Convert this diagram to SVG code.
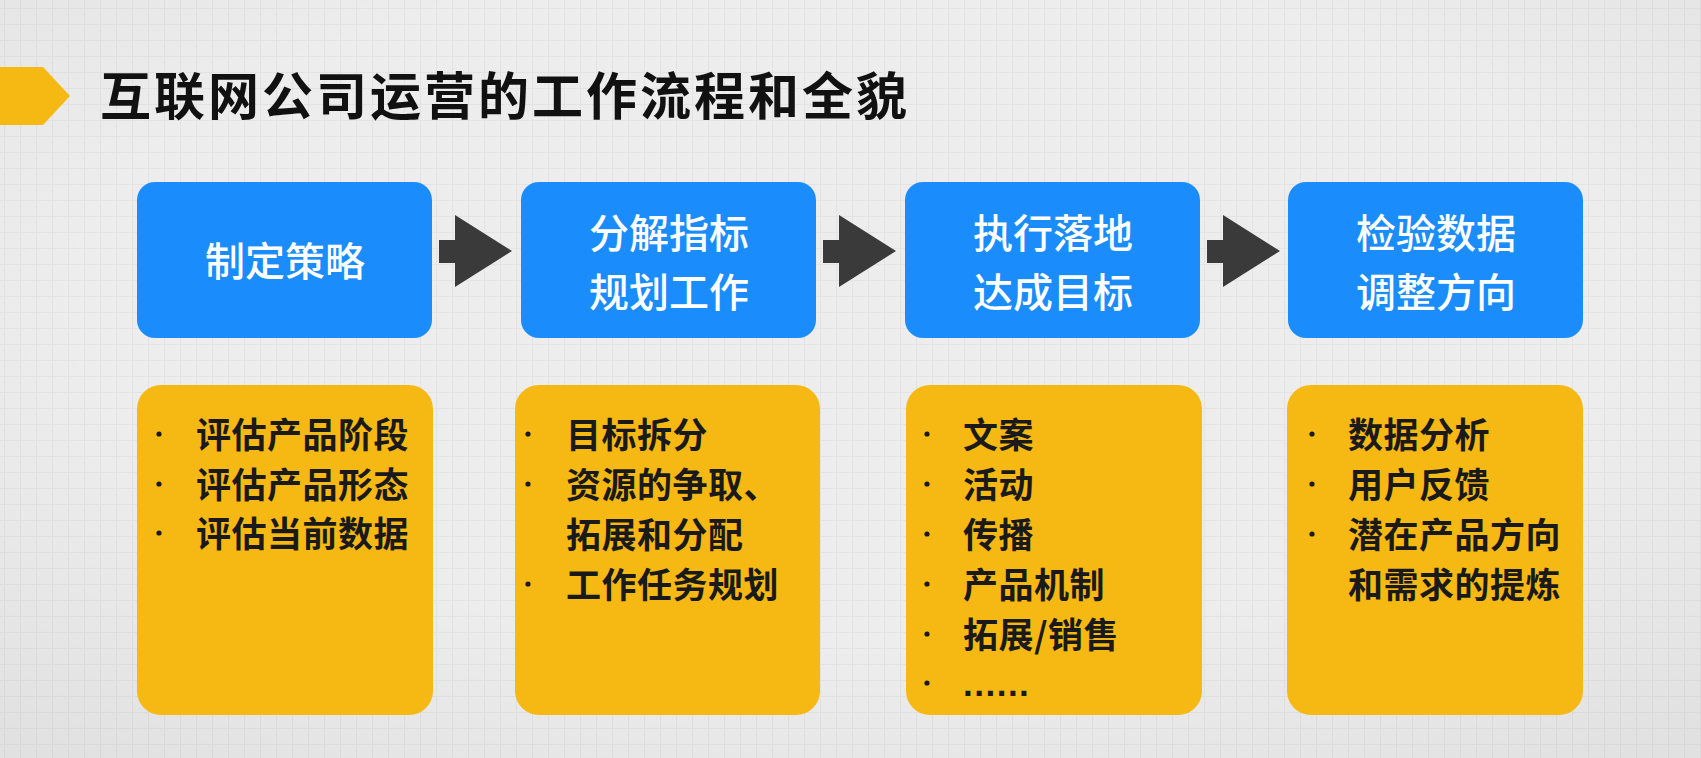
<svg xmlns="http://www.w3.org/2000/svg" width="1701" height="758" viewBox="0 0 1701 758">
  <defs>
    <pattern id="grid" x="4" y="8" width="16" height="16" patternUnits="userSpaceOnUse">
      <path d="M0 0.5H16M0.5 0V16" fill="none" stroke="#e3e3e3" stroke-width="1"/>
    </pattern>
    <radialGradient id="vig" cx="50%" cy="40%" r="75%">
      <stop offset="0.6" stop-color="#000" stop-opacity="0"/>
      <stop offset="1" stop-color="#000" stop-opacity="0.05"/>
    </radialGradient>
    <style>
      .blue { fill: #1a8cfb; }
      .yellow { fill: #f6b812; }
      .arrow { fill: #3a3a3a; }
      .title { font-family: "Noto Sans CJK SC", "Noto Sans", sans-serif; font-size: 51px; font-weight: 700; fill: #111; letter-spacing: 3px; }
      .btxt { font-family: "Noto Sans CJK SC", "Noto Sans", sans-serif; font-size: 40px; font-weight: 500; fill: #ffffff; text-anchor: middle; }
      .ytxt { font-family: "Noto Sans CJK SC", "Noto Sans", sans-serif; font-size: 35px; font-weight: 700; fill: #1a1a1a; letter-spacing: 0.5px; }
      .dot { fill: #1a1a1a; }
    </style>
  </defs>

  <rect width="1701" height="758" fill="#ededed"/>
  <rect width="1701" height="758" fill="url(#grid)"/>
  <rect width="1701" height="758" fill="url(#vig)"/>

  <g id="title">
    <polygon points="0,67 43,67 70,96 43,125 0,125" fill="#f6b812"/>
    <text class="title" x="100" y="115">互联网公司运营的工作流程和全貌</text>
  </g>

  <g id="step1">
    <rect class="blue" x="137" y="182" width="295" height="156" rx="18"/>
    <text class="btxt" x="285" y="276">制定策略</text>
  </g>
  <g id="step2">
    <rect class="blue" x="521" y="182" width="295" height="156" rx="18"/>
    <text class="btxt" x="669" y="248">分解指标</text>
    <text class="btxt" x="669" y="307">规划工作</text>
  </g>
  <g id="step3">
    <rect class="blue" x="905" y="182" width="295" height="156" rx="18"/>
    <text class="btxt" x="1053" y="248">执行落地</text>
    <text class="btxt" x="1053" y="307">达成目标</text>
  </g>
  <g id="step4">
    <rect class="blue" x="1288" y="182" width="295" height="156" rx="18"/>
    <text class="btxt" x="1436" y="248">检验数据</text>
    <text class="btxt" x="1436" y="307">调整方向</text>
  </g>

  <g id="connectors">
    <polygon class="arrow" points="439,240 455,240 455,215 512,251 455,287 455,263 439,263"/>
    <polygon class="arrow" points="823,240 839,240 839,215 896,251 839,287 839,263 823,263"/>
    <polygon class="arrow" points="1207,240 1223,240 1223,215 1280,251 1223,287 1223,263 1207,263"/>
  </g>

  <g id="detail1">
    <rect class="yellow" x="137" y="385" width="296" height="330" rx="24"/>
    <circle class="dot" cx="159" cy="434" r="2.6"/>
    <circle class="dot" cx="159" cy="484" r="2.6"/>
    <circle class="dot" cx="159" cy="533" r="2.6"/>
    <text class="ytxt" x="196" y="448">评估产品阶段</text>
    <text class="ytxt" x="196" y="498">评估产品形态</text>
    <text class="ytxt" x="196" y="547">评估当前数据</text>
  </g>

  <g id="detail2">
    <rect class="yellow" x="515" y="385" width="305" height="330" rx="24"/>
    <circle class="dot" cx="528" cy="434" r="2.6"/>
    <circle class="dot" cx="528" cy="484" r="2.6"/>
    <circle class="dot" cx="528" cy="584" r="2.6"/>
    <text class="ytxt" x="566" y="448">目标拆分</text>
    <text class="ytxt" x="566" y="498">资源的争取、</text>
    <text class="ytxt" x="566" y="548">拓展和分配</text>
    <text class="ytxt" x="566" y="598">工作任务规划</text>
  </g>

  <g id="detail3">
    <rect class="yellow" x="906" y="385" width="296" height="330" rx="24"/>
    <circle class="dot" cx="927" cy="434" r="2.6"/>
    <circle class="dot" cx="927" cy="484" r="2.6"/>
    <circle class="dot" cx="927" cy="534" r="2.6"/>
    <circle class="dot" cx="927" cy="584" r="2.6"/>
    <circle class="dot" cx="927" cy="634" r="2.6"/>
    <circle class="dot" cx="927" cy="683" r="2.6"/>
    <text class="ytxt" x="963" y="448">文案</text>
    <text class="ytxt" x="963" y="498">活动</text>
    <text class="ytxt" x="963" y="548">传播</text>
    <text class="ytxt" x="963" y="598">产品机制</text>
    <text class="ytxt" x="963" y="648">拓展/销售</text>
    <text class="ytxt" x="963" y="696" style="font-family: 'Liberation Sans', sans-serif; letter-spacing: 1.5px;">......</text>
  </g>

  <g id="detail4">
    <rect class="yellow" x="1287" y="385" width="296" height="330" rx="24"/>
    <circle class="dot" cx="1312" cy="434" r="2.6"/>
    <circle class="dot" cx="1312" cy="484" r="2.6"/>
    <circle class="dot" cx="1312" cy="534" r="2.6"/>
    <text class="ytxt" x="1348" y="448">数据分析</text>
    <text class="ytxt" x="1348" y="498">用户反馈</text>
    <text class="ytxt" x="1348" y="548">潜在产品方向</text>
    <text class="ytxt" x="1348" y="598">和需求的提炼</text>
  </g>
</svg>
